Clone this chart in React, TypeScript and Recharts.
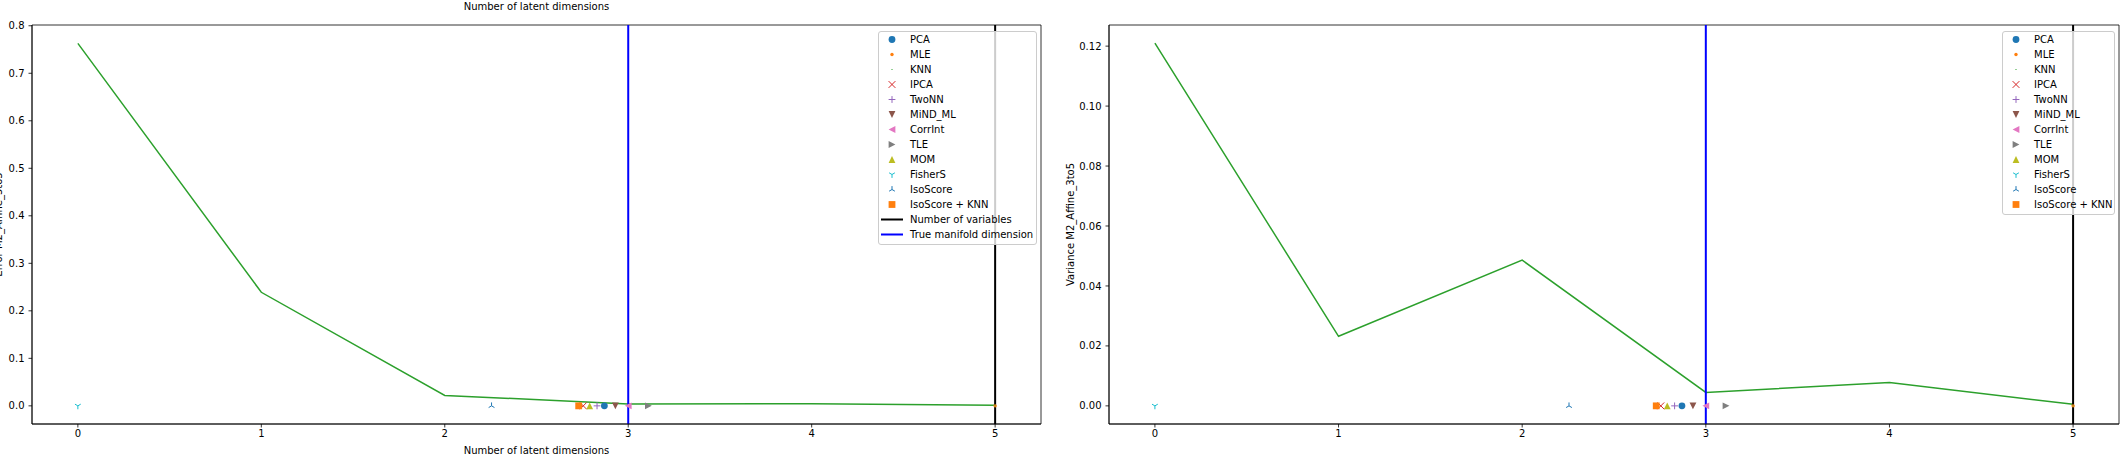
import React from 'react';
import {
  ComposedChart,
  Line,
  Scatter,
  XAxis,
  YAxis,
  ReferenceLine,
  ReferenceArea,
} from 'recharts';

const FONT = '"DejaVu Sans", sans-serif';

// latent dimensions on the x axis
const dims = [0, 1, 2, 3, 4, 5];
const xTicks = [0, 1, 2, 3, 4, 5];

// green curves
const errorValues = [0.763, 0.239, 0.022, 0.004, 0.0045, 0.0015];
const varianceValues = [0.121, 0.0232, 0.0486, 0.0045, 0.0078, 0.0005];

const errorTicks = [0, 0.1, 0.2, 0.3, 0.4, 0.5, 0.6, 0.7, 0.8];
const varianceTicks = [0, 0.02, 0.04, 0.06, 0.08, 0.1, 0.12];

// estimators, drawn at y = 0
const estimatorNames = [
  'PCA',
  'MLE',
  'KNN',
  'IPCA',
  'TwoNN',
  'MiND_ML',
  'CorrInt',
  'TLE',
  'MOM',
  'FisherS',
  'IsoScore',
  'IsoScore + KNN',
];
const estimatorColors = [
  '#1f77b4',
  '#ff7f0e',
  '#2ca02c',
  '#d62728',
  '#9467bd',
  '#8c564b',
  '#e377c2',
  '#7f7f7f',
  '#bcbd22',
  '#17becf',
  '#1f77b4',
  '#ff7f0e',
];
const estimatorMarkers = ['o', '.', ',', 'x', '+', 'v', '<', '>', '^', '1', '2', 's'];
const estimatedDims = [2.87, 5.0, 5.0, 2.755, 2.83, 2.93, 3.0, 3.11, 2.79, 0.0, 2.255, 2.73];

const numVariables = 5;
const trueDimension = 3;

const MarkerGlyph = ({ kind, color, cx, cy }: { kind: string; color: string; cx: number; cy: number }) => {
  const r = 3.4;
  switch (kind) {
    case 'o':
      return <circle cx={cx} cy={cy} r={r} fill={color} />;
    case '.':
      return <circle cx={cx} cy={cy} r={1.7} fill={color} />;
    case ',':
      return <rect x={cx - 0.5} y={cy - 0.5} width={1} height={1} fill={color} />;
    case 'x':
      return (
        <path
          d={`M${cx - r},${cy - r}L${cx + r},${cy + r}M${cx - r},${cy + r}L${cx + r},${cy - r}`}
          stroke={color}
          strokeWidth={1}
        />
      );
    case '+':
      return (
        <path d={`M${cx - r},${cy}L${cx + r},${cy}M${cx},${cy - r}L${cx},${cy + r}`} stroke={color} strokeWidth={1} />
      );
    case 'v':
      return <polygon points={`${cx - r},${cy - r} ${cx + r},${cy - r} ${cx},${cy + r}`} fill={color} />;
    case '^':
      return <polygon points={`${cx},${cy - r} ${cx - r},${cy + r} ${cx + r},${cy + r}`} fill={color} />;
    case '<':
      return <polygon points={`${cx - r},${cy} ${cx + r},${cy - r} ${cx + r},${cy + r}`} fill={color} />;
    case '>':
      return <polygon points={`${cx + r},${cy} ${cx - r},${cy - r} ${cx - r},${cy + r}`} fill={color} />;
    case '1':
      return (
        <path
          d={`M${cx},${cy}L${cx},${cy + r}M${cx},${cy}L${cx - 2.9},${cy - 1.7}M${cx},${cy}L${cx + 2.9},${cy - 1.7}`}
          stroke={color}
          strokeWidth={1}
        />
      );
    case '2':
      return (
        <path
          d={`M${cx},${cy}L${cx},${cy - r}M${cx},${cy}L${cx - 2.9},${cy + 1.7}M${cx},${cy}L${cx + 2.9},${cy + 1.7}`}
          stroke={color}
          strokeWidth={1}
        />
      );
    case 's':
      return <rect x={cx - r} y={cy - r} width={2 * r} height={2 * r} fill={color} />;
    default:
      return null;
  }
};

interface PanelProps {
  values: number[];
  yDomain: [number, number];
  yTicks: number[];
  digits: number;
  width: number;
  yAxisWidth: number;
  rightMargin: number;
  yLabel: string;
  yLabelX: number;
  xLabel?: string;
  title?: string;
}

const Panel: React.FC<PanelProps> = ({
  values,
  yDomain,
  yTicks,
  digits,
  width,
  yAxisWidth,
  rightMargin,
  yLabel,
  yLabelX,
  xLabel,
  title,
}) => {
  const lineData = dims.map((d, i) => ({ x: d, y: values[i] }));
  const tickStyle = { fill: '#000', fontSize: 10, fontFamily: FONT };

  return (
    <ComposedChart width={width} height={465} margin={{ top: 25, right: rightMargin, bottom: 0, left: 0 }}>
      <XAxis
        type="number"
        dataKey="x"
        domain={[-0.25, 5.25]}
        ticks={xTicks}
        interval={0}
        allowDataOverflow
        height={41}
        tickSize={3.5}
        tickMargin={2}
        axisLine={{ stroke: '#000', strokeWidth: 0.8 }}
        tickLine={{ stroke: '#000', strokeWidth: 0.8 }}
        tick={tickStyle}
        label={{
          content: (props: any) => {
            if (!xLabel) return null;
            const vb = props.viewBox;
            return (
              <text x={vb.x + vb.width / 2} y={vb.y + 30} textAnchor="middle" fontSize={10} fontFamily={FONT} fill="#000">
                {xLabel}
              </text>
            );
          },
        }}
      />
      <YAxis
        type="number"
        dataKey="y"
        domain={yDomain}
        ticks={yTicks}
        interval={0}
        allowDataOverflow
        width={yAxisWidth}
        tickSize={3.5}
        tickMargin={4}
        tickFormatter={(v: number) => v.toFixed(digits)}
        axisLine={{ stroke: '#000', strokeWidth: 0.8 }}
        tickLine={{ stroke: '#000', strokeWidth: 0.8 }}
        tick={tickStyle}
        label={{
          content: (props: any) => {
            const vb = props.viewBox;
            const cy = vb.y + vb.height / 2;
            return (
              <text
                x={yLabelX}
                y={cy}
                transform={`rotate(-90, ${yLabelX}, ${cy})`}
                textAnchor="middle"
                dominantBaseline="central"
                fontSize={10}
                fontFamily={FONT}
                fill="#000"
              >
                {yLabel}
              </text>
            );
          },
        }}
      />
      <ReferenceArea
        x1={-0.25}
        x2={5.25}
        y1={yDomain[0]}
        y2={yDomain[1]}
        fill="none"
        fillOpacity={0}
        stroke="#000"
        strokeWidth={0.8}
        ifOverflow="visible"
        label={
          title
            ? { value: title, position: 'top', offset: 15, fill: '#000', fontSize: 10, fontFamily: FONT }
            : undefined
        }
      />
      <Line
        data={lineData}
        dataKey="y"
        type="linear"
        stroke="#2ca02c"
        strokeWidth={1.5}
        dot={false}
        isAnimationActive={false}
      />
      {estimatorNames.map((name, i) => (
        <Scatter
          key={name}
          name={name}
          data={[{ x: estimatedDims[i], y: 0 }]}
          dataKey="y"
          isAnimationActive={false}
          shape={(p: any) => (
            <MarkerGlyph kind={estimatorMarkers[i]} color={estimatorColors[i]} cx={p.cx} cy={p.cy} />
          )}
        />
      ))}
      <ReferenceLine x={numVariables} stroke="#000" strokeWidth={2} />
      <ReferenceLine x={trueDimension} stroke="#0000ff" strokeWidth={2} />
    </ComposedChart>
  );
};

const LegendBox = ({ left, top, width, withLines }: { left: number; top: number; width: number; withLines: boolean }) => {
  const rows: { name: string; glyph: React.ReactNode }[] = estimatorNames.map((name, i) => ({
    name,
    glyph: <MarkerGlyph kind={estimatorMarkers[i]} color={estimatorColors[i]} cx={13} cy={7.5} />,
  }));
  if (withLines) {
    rows.push({
      name: 'Number of variables',
      glyph: <line x1={2} x2={24} y1={7.5} y2={7.5} stroke="#000" strokeWidth={2} />,
    });
    rows.push({
      name: 'True manifold dimension',
      glyph: <line x1={2} x2={24} y1={7.5} y2={7.5} stroke="#0000ff" strokeWidth={2} />,
    });
  }
  return (
    <div
      style={{
        position: 'absolute',
        left,
        top,
        width,
        boxSizing: 'border-box',
        border: '1px solid #cccccc',
        borderRadius: 3,
        background: 'rgba(255,255,255,0.8)',
        padding: '0 0 2px 0',
        fontFamily: FONT,
        fontSize: 10,
        color: '#000',
      }}
    >
      {rows.map((r) => (
        <div key={r.name} style={{ display: 'flex', alignItems: 'center', height: 15, whiteSpace: 'nowrap' }}>
          <svg width={31} height={15} style={{ flex: 'none' }}>
            {r.glyph}
          </svg>
          <span>{r.name}</span>
        </div>
      ))}
    </div>
  );
}

export default function App() {
  return (
    <div
      style={{
        position: 'absolute',
        left: 0,
        top: 0,
        width: 2126,
        height: 465,
        background: '#fff',
        overflow: 'hidden',
        fontFamily: FONT,
      }}
    >
      <div style={{ position: 'absolute', left: 0, top: 0 }}>
        <Panel
          values={errorValues}
          yDomain={[-0.0382, 0.8016]}
          yTicks={errorTicks}
          digits={1}
          width={1060}
          yAxisWidth={32}
          rightMargin={19}
          yLabel="Error M2_Affine_3to5"
          yLabelX={-2}
          xLabel="Number of latent dimensions"
          title="Number of latent dimensions"
        />
      </div>
      <div style={{ position: 'absolute', left: 1060, top: 0 }}>
        <Panel
          values={varianceValues}
          yDomain={[-0.00605, 0.12705]}
          yTicks={varianceTicks}
          digits={2}
          width={1066}
          yAxisWidth={49}
          rightMargin={7}
          yLabel="Variance M2_Affine_3to5"
          yLabelX={10}
        />
      </div>
      <LegendBox left={878} top={31} width={159} withLines />
      <LegendBox left={2002} top={31} width={113} withLines={false} />
    </div>
  );
}
